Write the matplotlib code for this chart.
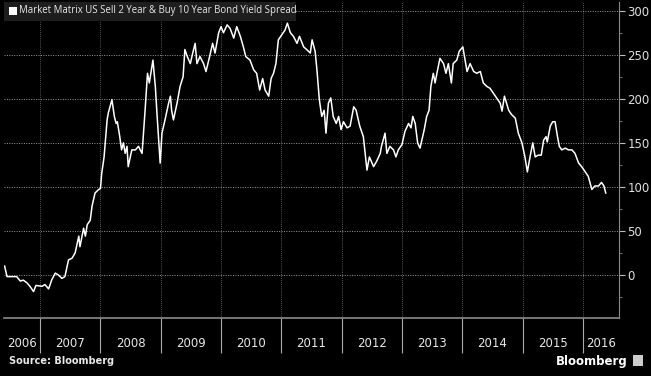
import numpy as np
import matplotlib.pyplot as plt
from matplotlib.patches import Rectangle

# spread in basis points, dates as decimal years
dates = [
    2006.41, 2006.45, 2006.56, 2006.61, 2006.67, 2006.72, 2006.78, 2006.83, 2006.89, 2006.93,
    2007.03, 2007.08, 2007.14, 2007.19, 2007.25, 2007.30, 2007.36, 2007.41, 2007.47, 2007.53,
    2007.58, 2007.64, 2007.66, 2007.72, 2007.75, 2007.78, 2007.83, 2007.86, 2007.91, 2007.97,
    2008.00, 2008.02, 2008.06, 2008.11, 2008.13, 2008.19, 2008.23, 2008.26, 2008.28, 2008.32,
    2008.35, 2008.38, 2008.41, 2008.44, 2008.46, 2008.52, 2008.58, 2008.63, 2008.69, 2008.74,
    2008.78, 2008.81, 2008.87, 2008.91, 2008.94, 2008.99, 2009.02, 2009.07, 2009.13, 2009.16,
    2009.18, 2009.21, 2009.27, 2009.32, 2009.37, 2009.40, 2009.44, 2009.49, 2009.53, 2009.57,
    2009.60, 2009.65, 2009.71, 2009.75, 2009.81, 2009.86, 2009.90, 2009.96, 2010.00, 2010.04,
    2010.10, 2010.15, 2010.21, 2010.26, 2010.32, 2010.37, 2010.41, 2010.48, 2010.54, 2010.59,
    2010.64, 2010.69, 2010.73, 2010.79, 2010.83, 2010.87, 2010.91, 2010.95, 2011.01, 2011.06,
    2011.10, 2011.15, 2011.20, 2011.26, 2011.30, 2011.37, 2011.42, 2011.48, 2011.51, 2011.56,
    2011.59, 2011.63, 2011.67, 2011.71, 2011.74, 2011.78, 2011.82, 2011.86, 2011.91, 2011.95,
    2011.99, 2012.03, 2012.09, 2012.14, 2012.20, 2012.24, 2012.30, 2012.36, 2012.42, 2012.46,
    2012.53, 2012.58, 2012.64, 2012.66, 2012.72, 2012.75, 2012.80, 2012.86, 2012.90, 2012.94,
    2013.00, 2013.05, 2013.11, 2013.15, 2013.18, 2013.22, 2013.26, 2013.30, 2013.37, 2013.41,
    2013.45, 2013.48, 2013.52, 2013.55, 2013.58, 2013.63, 2013.69, 2013.73, 2013.77, 2013.82,
    2013.85, 2013.91, 2013.95, 2014.01, 2014.08, 2014.13, 2014.19, 2014.24, 2014.30, 2014.35,
    2014.41, 2014.46, 2014.52, 2014.57, 2014.63, 2014.66, 2014.70, 2014.77, 2014.82, 2014.88,
    2014.93, 2014.99, 2015.04, 2015.08, 2015.13, 2015.17, 2015.21, 2015.26, 2015.31, 2015.35,
    2015.39, 2015.41, 2015.46, 2015.50, 2015.54, 2015.58, 2015.61, 2015.65, 2015.71, 2015.76,
    2015.82, 2015.87, 2015.93, 2015.98, 2016.04, 2016.09, 2016.15, 2016.20, 2016.26, 2016.31,
    2016.35, 2016.38,
]
spread = [
    10, -2, -2, -2, -7, -6, -9, -13, -19, -12,
    -13, -11, -16, -6, 2, 0, -4, -2, 17, 19,
    25, 44, 32, 53, 44, 57, 62, 78, 93, 97,
    98, 115, 134, 176, 184, 199, 180, 172, 174, 157,
    142, 150, 138, 146, 123, 142, 142, 146, 138, 187,
    229, 218, 244, 214, 180, 127, 161, 176, 195, 203,
    187, 176, 195, 214, 225, 256, 248, 240, 252, 263,
    240, 248, 240, 231, 248, 263, 252, 275, 282, 275,
    284, 280, 269, 282, 271, 259, 248, 244, 233, 229,
    210, 223, 210, 203, 223, 229, 240, 267, 273, 278,
    286, 275, 271, 263, 271, 259, 256, 252, 267, 254,
    233, 199, 180, 187, 161, 195, 201, 180, 172, 180,
    165, 174, 167, 169, 191, 187, 169, 157, 119, 134,
    123, 129, 138, 146, 161, 138, 146, 142, 134, 142,
    148, 163, 172, 167, 180, 172, 150, 144, 165, 180,
    187, 214, 229, 218, 229, 246, 240, 229, 240, 218,
    240, 244, 254, 259, 231, 240, 231, 229, 231, 218,
    214, 212, 206, 201, 195, 186, 203, 187, 182, 178,
    161, 150, 134, 117, 136, 150, 134, 136, 136, 153,
    157, 151, 169, 174, 174, 157, 146, 142, 144, 142,
    142, 138, 127, 123, 117, 112, 97, 101, 101, 105,
    101, 93,
]
years = list(range(2006, 2017))
y_ticks = [0, 50, 100, 150, 200, 250, 300]
x_min, x_max = 2006.40, 2016.60

W, H = 651, 376
fig = plt.figure(figsize=(W / 100, H / 100), dpi=100, facecolor='black')
ax = fig.add_axes([4 / W, 1 - 318 / H, 615 / W, 316 / H], facecolor='black')

ax.plot(dates, spread, color='white', lw=1.1, solid_joinstyle='round')

ax.set_xlim(x_min, x_max)
ax.set_ylim(-49, 310)

# y axis on the right
ax.yaxis.tick_right()
ax.set_yticks(y_ticks)
ax.set_yticks(np.arange(-25, 310, 50), minor=True)
ax.tick_params(axis='y', which='major', colors='#bbbbbb', labelcolor='#e0e0e0',
               labelsize=8.5, length=4, width=0.8, pad=2)
ax.tick_params(axis='y', which='minor', colors='#888888', length=2, width=0.6)

# x axis: long separators at year boundaries, labels centred in each visible year span
ax.set_xticks(years[1:])
ax.set_xticklabels([''] * len(years[1:]))
label_pos = [(max(y, x_min) + min(y + 1, x_max)) / 2 for y in years]
ax.set_xticks(label_pos, minor=True)
ax.set_xticklabels([str(y) for y in years], minor=True)
ax.tick_params(axis='x', which='major', direction='out', length=25, width=0.8, colors='#aaaaaa')
ax.tick_params(axis='x', which='minor', length=0, labelcolor='#e8e8e8', labelsize=8.5, pad=14)

ax.grid(True, which='major', axis='y', color='#9a9a9a', linestyle=(0, (1, 1.5)), lw=0.7)
ax.grid(True, which='major', axis='x', color='#777777', linestyle=(0, (1, 1.5)), lw=0.6)

for s in ['left', 'top']:
    ax.spines[s].set_visible(False)
ax.spines['bottom'].set_color('#8a8a8a')
ax.spines['right'].set_color('#8a8a8a')
ax.spines['bottom'].set_linewidth(1.2)

# legend-like title box
fig.patches.append(Rectangle((4 / W, 1 - 21 / H), 292 / W, 19 / H, transform=fig.transFigure,
                             facecolor='#1e1e1e', edgecolor='none', zorder=5))
fig.patches.append(Rectangle((9 / W, 1 - 15 / H), 8 / W, 8 / H, transform=fig.transFigure,
                             facecolor='white', edgecolor='none', zorder=6))
fig.text(19 / W, 1 - 11 / H, 'Market Matrix US Sell 2 Year & Buy 10 Year Bond Yield Spread',
         color='#e8e8e8', fontsize=6.9, family='Open Sans', va='center', ha='left', zorder=7)

fig.text(9 / W, 1 - 361 / H, 'Source: Bloomberg', color='#e8e8e8', fontsize=7,
         fontweight='bold', va='center', ha='left')
fig.text(628 / W, 1 - 361 / H, 'Bloomberg', color='white', fontsize=8.5,
         fontweight='bold', va='center', ha='right')
fig.patches.append(Rectangle((633 / W, 1 - 366 / H), 10 / W, 11 / H, transform=fig.transFigure,
                             facecolor='#cccccc', edgecolor='none'))

fig.savefig('out.png', dpi=100, facecolor='black')
